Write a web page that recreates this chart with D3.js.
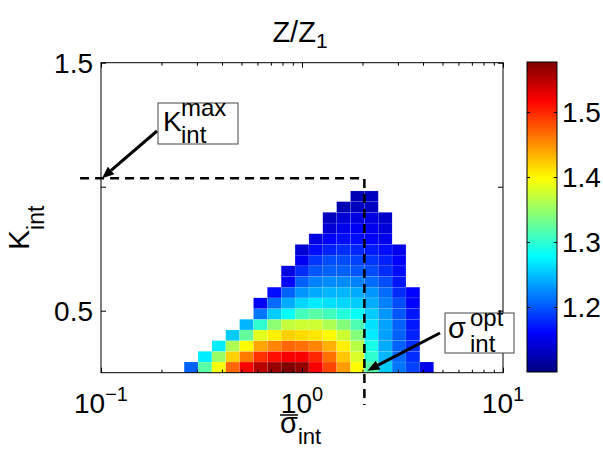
<!DOCTYPE html>
<html>
<head>
<meta charset="utf-8">
<script src="https://cdn.jsdelivr.net/npm/d3@7"></script>
<style>
  body { margin: 0; background: #fff; }
  text { font-family: "Liberation Sans", Arial, Helvetica, sans-serif; fill: #000; }
</style>
</head>
<body>
<svg id="chart" width="603" height="449"></svg>
<script>
// Cell edges along sigma (log-spaced grid, only the populated span)
const sigmaEdges = [0.25929, 0.30392, 0.35622, 0.41753, 0.48939, 0.57362, 0.67234,
  0.78805, 0.92367, 1.08264, 1.26896, 1.48735, 1.74333, 2.04336, 2.39503,
  2.80722, 3.29034, 3.85662, 4.52035];
// Cell edges along K (rows from the bottom)
const kappaEdges = [0.25, 0.2931, 0.3362, 0.3793, 0.4224, 0.4655, 0.5086, 0.5517,
  0.5948, 0.6379, 0.6810, 0.7241, 0.7672, 0.8103, 0.8534, 0.8966, 0.9397, 0.9828];
// First populated sigma column of every K row
const rowStart = [0, 1, 2, 3, 4, 5, 5, 6, 7, 7, 8, 8, 9, 10, 10, 11, 12];
// Z/Z1 for every populated cell, row by row from the bottom
const zRows = [
  [1.205, 1.32, 1.395, 1.47, 1.52, 1.55, 1.565, 1.577, 1.568, 1.52, 1.485, 1.445, 1.40, 1.32, 1.255, 1.215, 1.19, 1.15],
  [1.27, 1.35, 1.42, 1.46, 1.495, 1.51, 1.52, 1.52, 1.50, 1.465, 1.425, 1.38, 1.30, 1.245, 1.21, 1.18],
  [1.27, 1.36, 1.40, 1.44, 1.455, 1.47, 1.465, 1.455, 1.435, 1.405, 1.365, 1.29, 1.24, 1.205, 1.18],
  [1.255, 1.325, 1.385, 1.405, 1.42, 1.415, 1.41, 1.40, 1.375, 1.34, 1.27, 1.235, 1.205, 1.175],
  [1.245, 1.30, 1.345, 1.37, 1.375, 1.375, 1.36, 1.34, 1.315, 1.265, 1.235, 1.205, 1.17],
  [1.215, 1.255, 1.28, 1.31, 1.32, 1.31, 1.295, 1.28, 1.255, 1.23, 1.20, 1.17],
  [1.155, 1.21, 1.24, 1.26, 1.27, 1.265, 1.26, 1.255, 1.24, 1.22, 1.195, 1.16],
  [1.165, 1.205, 1.23, 1.24, 1.245, 1.245, 1.24, 1.23, 1.21, 1.18, 1.16],
  [1.16, 1.205, 1.22, 1.225, 1.225, 1.22, 1.21, 1.195, 1.17],
  [1.145, 1.18, 1.20, 1.205, 1.205, 1.20, 1.195, 1.18, 1.165],
  [1.155, 1.185, 1.195, 1.195, 1.19, 1.185, 1.175, 1.16],
  [1.14, 1.165, 1.175, 1.18, 1.178, 1.172, 1.165, 1.15],
  [1.145, 1.16, 1.165, 1.165, 1.16, 1.15],
  [1.14, 1.15, 1.155, 1.152, 1.142],
  [1.13, 1.14, 1.145, 1.145, 1.135],
  [1.125, 1.13, 1.13],
  [1.125, 1.13]
];
// Colour axis limits (colorbar range)
const colorLimits = [1.10, 1.577];
// Axis ticks
const xMajorTicks = [0.1, 1, 10];
const xMajorExp = ["\u22121", "0", "1"];
const xMinorTicks = [0.2, 0.3, 0.4, 0.5, 0.6, 0.7, 0.8, 0.9, 2, 3, 4, 5, 6, 7, 8, 9];
const yTicks = [0.5, 1, 1.5];
const yTickLabels = ["0.5", "", "1.5"];
const cbTicks = [1.2, 1.3, 1.4, 1.5];
// Marked optimum
const kMax = 1.034;
const sigmaOpt = 2.04336;

const svg = d3.select("#chart");
const plot = { left: 101, right: 503, top: 62.7, bottom: 372.7 };

const x = d3.scaleLog().domain([0.1, 10]).range([plot.left, plot.right]);
const y = d3.scaleLinear().domain([0.25, 1.5]).range([plot.bottom, plot.top]);

// MATLAB-style jet colormap
function jet(t) {
  const c = v => Math.max(0, Math.min(1, v));
  const r = c(1.5 - Math.abs(4 * t - 3));
  const g = c(1.5 - Math.abs(4 * t - 2));
  const b = c(1.5 - Math.abs(4 * t - 1));
  return d3.rgb(r * 255, g * 255, b * 255).toString();
}
const color = d3.scaleSequential(jet).domain(colorLimits).clamp(true);

// Cells
const cells = [];
zRows.forEach((row, j) => {
  row.forEach((z, i) => {
    const col = rowStart[j] + i;
    cells.push({ s0: sigmaEdges[col], s1: sigmaEdges[col + 1], k0: kappaEdges[j], k1: kappaEdges[j + 1], z });
  });
});
svg.append("g").selectAll("rect").data(cells).join("rect")
  .attr("x", d => x(d.s0))
  .attr("y", d => y(d.k1))
  .attr("width", d => x(d.s1) - x(d.s0))
  .attr("height", d => y(d.k0) - y(d.k1))
  .attr("fill", d => color(d.z))
  .attr("stroke", "rgba(255,255,255,0.18)")
  .attr("stroke-width", 0.5);

// Axes (ticks inward on all four sides)
const gx = svg.append("g").attr("transform", `translate(0,${plot.bottom})`);
gx.call(d3.axisBottom(x).tickValues(xMajorTicks).tickSize(-5).tickSizeOuter(0).tickFormat(() => ""));
const gxm = svg.append("g").attr("transform", `translate(0,${plot.bottom})`);
gxm.call(d3.axisBottom(x).tickValues(xMinorTicks).tickSize(-3).tickSizeOuter(0).tickFormat(() => ""));
const gxt = svg.append("g").attr("transform", `translate(0,${plot.top})`);
gxt.call(d3.axisTop(x).tickValues(xMajorTicks).tickSize(-5).tickSizeOuter(0).tickFormat(() => ""));
const gxtm = svg.append("g").attr("transform", `translate(0,${plot.top})`);
gxtm.call(d3.axisTop(x).tickValues(xMinorTicks).tickSize(-3).tickSizeOuter(0).tickFormat(() => ""));
const gy = svg.append("g").attr("transform", `translate(${plot.left},0)`);
gy.call(d3.axisLeft(y).tickValues(yTicks).tickSize(-5).tickSizeOuter(0).tickFormat(() => ""));
const gyr = svg.append("g").attr("transform", `translate(${plot.right},0)`);
gyr.call(d3.axisRight(y).tickValues(yTicks).tickSize(-5).tickSizeOuter(0).tickFormat(() => ""));
svg.selectAll(".domain").remove();
svg.selectAll(".tick line").attr("stroke", "#000").attr("stroke-width", 1);

// Box
svg.append("rect")
  .attr("x", plot.left).attr("y", plot.top)
  .attr("width", plot.right - plot.left).attr("height", plot.bottom - plot.top)
  .attr("fill", "none").attr("stroke", "#000").attr("stroke-width", 1);

// X tick labels 10^n
xMajorTicks.forEach((v, i) => {
  const t = svg.append("text")
    .attr("x", x(v)).attr("y", 413)
    .attr("text-anchor", "middle")
    .attr("font-size", 28)
    .text("10");
  t.append("tspan").attr("dy", -12).attr("font-size", 20).text(xMajorExp[i]);
});
// Y tick labels
yTicks.forEach((v, i) => {
  if (!yTickLabels[i]) return;
  svg.append("text")
    .attr("x", plot.left - 8).attr("y", y(v) + 10)
    .attr("text-anchor", "end")
    .attr("font-size", 28)
    .text(yTickLabels[i]);
});

// Title
const title = svg.append("text").attr("x", 300).attr("y", 42).attr("text-anchor", "middle").attr("font-size", 29).text("Z/Z");
title.append("tspan").attr("dy", 6).attr("font-size", 21).text("1");

// Axis labels
const xl = svg.append("text").attr("x", 280).attr("y", 433).attr("font-size", 29).text("\u03c3");
xl.append("tspan").attr("dy", 11).attr("font-size", 22).text("int");
svg.append("line").attr("x1", 280).attr("x2", 298).attr("y1", 415).attr("y2", 415)
  .attr("stroke", "#000").attr("stroke-width", 1.5);

const yl = svg.append("text").attr("transform", "translate(29,250) rotate(-90)").attr("font-size", 30).text("K");
yl.append("tspan").attr("dy", 15).attr("font-size", 23).text("int");

// Dashed guide lines
svg.append("path")
  .attr("d", `M${x(0.0787)},${y(kMax)}H${x(sigmaOpt)}V${y(0.12)}`)
  .attr("fill", "none").attr("stroke", "#000").attr("stroke-width", 2.5)
  .attr("stroke-dasharray", "9,6");

// Arrows with filled heads
function arrow(x1, y1, x2, y2) {
  const a = Math.atan2(y2 - y1, x2 - x1);
  const L = 12, W = 5;
  const bx = x2 - L * Math.cos(a), by = y2 - L * Math.sin(a);
  svg.append("line").attr("x1", x1).attr("y1", y1).attr("x2", bx).attr("y2", by)
    .attr("stroke", "#000").attr("stroke-width", 3);
  const px = -Math.sin(a) * W, py = Math.cos(a) * W;
  svg.append("path")
    .attr("d", `M${x2},${y2}L${bx + px},${by + py}L${bx - px},${by - py}Z`)
    .attr("fill", "#000");
}
arrow(157, 131, x(0.1) + 1, y(kMax));
arrow(440, 333, x(sigmaOpt) + 3, plot.bottom - 2);

// Annotation boxes
svg.append("rect").attr("x", 158).attr("y", 103).attr("width", 80).attr("height", 41)
  .attr("fill", "#fff").attr("stroke", "#444").attr("stroke-width", 1);
svg.append("text").attr("x", 163).attr("y", 131).attr("font-size", 28).text("K");
svg.append("text").attr("x", 181).attr("y", 116).attr("font-size", 24).text("max");
svg.append("text").attr("x", 181).attr("y", 143).attr("font-size", 24).text("int");

svg.append("rect").attr("x", 445).attr("y", 313).attr("width", 69).attr("height", 40)
  .attr("fill", "#fff").attr("stroke", "#444").attr("stroke-width", 1);
svg.append("text").attr("x", 448).attr("y", 338).attr("font-size", 29).text("\u03c3");
svg.append("text").attr("x", 470).attr("y", 326).attr("font-size", 24).text("opt");
svg.append("text").attr("x", 470).attr("y", 352).attr("font-size", 24).text("int");

// Colorbar
const cb = { x: 527, w: 30, top: 62, bottom: 372 };
const cy = d3.scaleLinear().domain(colorLimits).range([cb.bottom, cb.top]);
const grad = svg.append("defs").append("linearGradient")
  .attr("id", "jetGrad").attr("x1", 0).attr("y1", 1).attr("x2", 0).attr("y2", 0);
d3.range(0, 1.0001, 1 / 64).forEach(t => {
  grad.append("stop").attr("offset", t).attr("stop-color", jet(t));
});
svg.append("rect").attr("x", cb.x).attr("y", cb.top).attr("width", cb.w).attr("height", cb.bottom - cb.top)
  .attr("fill", "url(#jetGrad)").attr("stroke", "#000").attr("stroke-width", 1);
const gcbR = svg.append("g").attr("transform", `translate(${cb.x + cb.w},0)`);
gcbR.call(d3.axisRight(cy).tickValues(cbTicks).tickSize(-3).tickSizeOuter(0).tickFormat(() => ""));
const gcbL = svg.append("g").attr("transform", `translate(${cb.x},0)`);
gcbL.call(d3.axisLeft(cy).tickValues(cbTicks).tickSize(-3).tickSizeOuter(0).tickFormat(() => ""));
gcbR.select(".domain").remove();
gcbL.select(".domain").remove();
gcbR.selectAll(".tick line").attr("stroke", "#000");
gcbL.selectAll(".tick line").attr("stroke", "#000");
cbTicks.forEach(v => {
  svg.append("text").attr("x", cb.x + cb.w + 5).attr("y", cy(v) + 10)
    .attr("font-size", 28).text(d3.format(".1f")(v));
});
</script>
</body>
</html>
